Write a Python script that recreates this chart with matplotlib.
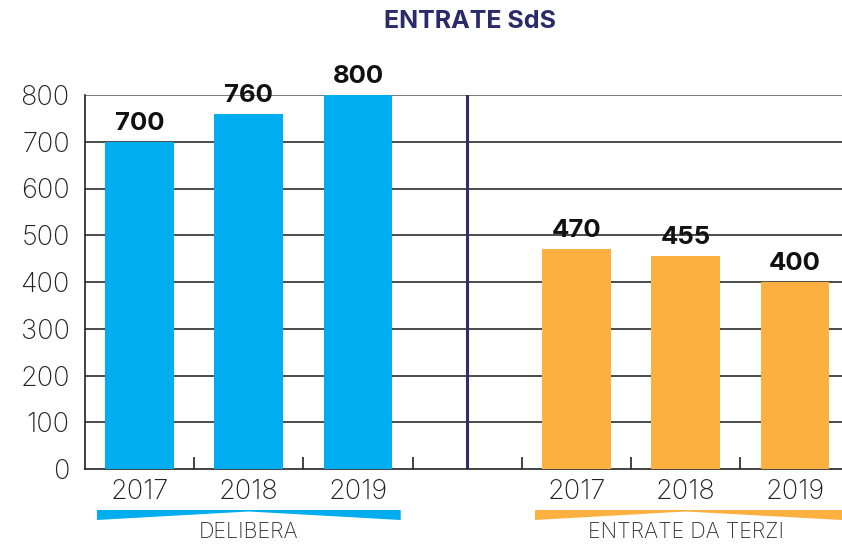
import matplotlib
matplotlib.use("Agg")
import matplotlib.pyplot as plt
from matplotlib.patches import Polygon
from matplotlib.transforms import blended_transform_factory

# ---- data ----
categories = ["2017", "2018", "2019", "", "2017", "2018", "2019"]
delibera = [700, 760, 800]
terzi = [470, 455, 400]
group_labels = ["DELIBERA", "ENTRATE DA TERZI"]
title = "ENTRATE SdS"

blue = "#00AEEF"
orange = "#FBB040"
navy = "#2B2A6B"

plt.rcParams["font.family"] = ["Inter", "DejaVu Sans"]

fig = plt.figure(figsize=(8.42, 5.46), dpi=100)
ax = fig.add_axes([85 / 842, 77 / 546, 757 / 842, 374 / 546])

pos_b = [0, 1, 2]
pos_o = [4, 5, 6]
bw = 0.63
bars_b = ax.bar(pos_b, delibera, width=bw, color=blue, zorder=3)
bars_o = ax.bar(pos_o, terzi, width=bw, color=orange, zorder=3)

for bars, vals in ((bars_b, delibera), (bars_o, terzi)):
    for b, v in zip(bars, vals):
        ax.annotate(f"{v}", (b.get_x() + b.get_width() / 2, v),
                    xytext=(0, 5), textcoords="offset points",
                    ha="center", va="bottom", fontsize=18.5, fontweight="bold",
                    color="#111111", clip_on=False, zorder=4)

ax.set_xlim(-0.5, 6.43)
ax.set_ylim(0, 800)
ax.set_yticks(range(0, 801, 100))
ax.set_yticklabels([str(v) for v in range(0, 801, 100)], fontsize=19.5,
                   fontweight="light", color="#222222")
ax.tick_params(axis="y", length=0, pad=11)

ax.set_xticks(range(len(categories)))
ax.set_xticklabels(categories, fontsize=19.5, fontweight="light", color="#222222")
ax.tick_params(axis="x", which="major", length=0, pad=7)
ax.set_xticks([0.5, 1.5, 2.5, 3.5, 4.5, 5.5], minor=True)
ax.tick_params(axis="x", which="minor", direction="in", length=9, width=1.2,
               color="#222222")

for v in range(100, 800, 100):
    ax.axhline(v, color="#1a1a1a", lw=1.1, zorder=1)
ax.axhline(800, color="#555555", lw=1.1, zorder=1)

ax.spines["top"].set_visible(False)
ax.spines["right"].set_visible(False)
ax.spines["left"].set_color("#222222")
ax.spines["bottom"].set_color("#222222")
ax.spines["left"].set_linewidth(1.2)
ax.spines["bottom"].set_linewidth(1.2)

ax.plot([3, 3], [0, 800], color="#2E2D6E", lw=2.2, zorder=2)

# title
fig.text(470 / 842, 1 - 22 / 546, title, ha="center", va="center",
         fontsize=18, fontweight="bold", color=navy)

# tapered group bands
tr = blended_transform_factory(ax.transData, fig.transFigure)
y_top = 1 - 510 / 546
y_bot = 1 - 520 / 546
y_mid = 1 - 511.5 / 546
for (x0, xm, x1), col, lab in (((-0.39, 1.0, 2.39), blue, group_labels[0]),
                               ((3.62, 5.0, 6.43), orange, group_labels[1])):
    poly = Polygon([(x0, y_top), (x1, y_top), (x1, y_bot), (xm, y_mid), (x0, y_bot)],
                   closed=True, transform=tr, facecolor=col, edgecolor="none",
                   clip_on=False)
    fig.add_artist(poly)
    fig.text(xm, 1 - 532 / 546, lab, transform=tr, ha="center", va="center",
             fontsize=15.5, fontweight="light", color="#333333")

fig.savefig("out.png", dpi=100)
